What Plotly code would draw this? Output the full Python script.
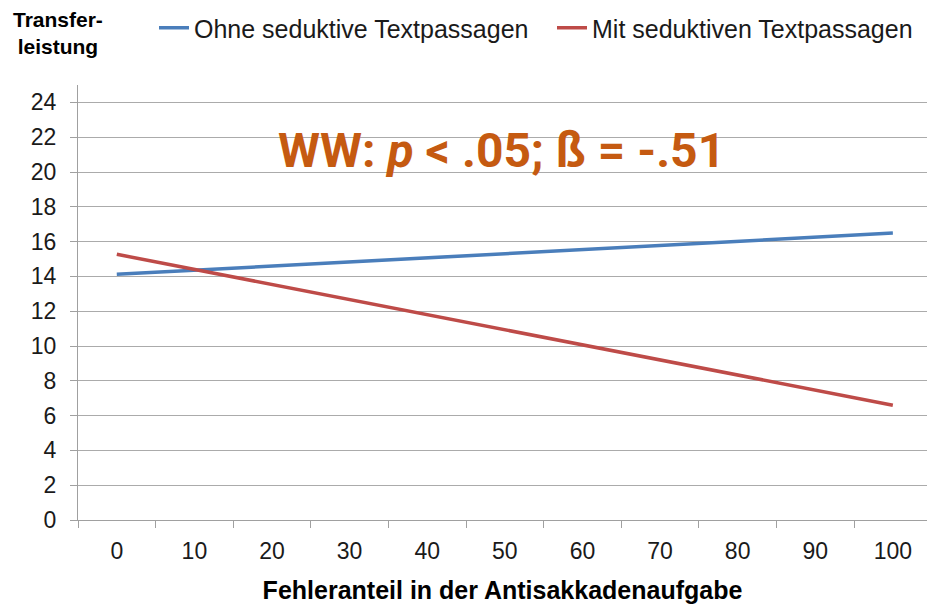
import plotly.graph_objects as go

# Data
x_vals = [0, 100]
ohne = [14.12, 16.49]
mit = [15.27, 6.60]
x_ticks = [0, 10, 20, 30, 40, 50, 60, 70, 80, 90, 100]
y_ticks = [0, 2, 4, 6, 8, 10, 12, 14, 16, 18, 20, 22, 24]

fig = go.Figure()
fig.add_trace(go.Scatter(x=x_vals, y=ohne, mode="lines", name="Ohne seduktive Textpassagen",
                         line=dict(color="#4A7EBB", width=3.5), legend="legend"))
fig.add_trace(go.Scatter(x=x_vals, y=mit, mode="lines", name="Mit seduktiven Textpassagen",
                         line=dict(color="#BE4B48", width=3.5), legend="legend2"))

FONT = "Liberation Sans, Arial, sans-serif"
tickfont = dict(family=FONT, size=23, color="#1a1a1a")
legfont = dict(family=FONT, size=25, color="#1a1a1a")

fig.update_layout(
    width=927, height=607,
    margin=dict(l=78, r=0, t=85, b=87, autoexpand=False),
    paper_bgcolor="white", plot_bgcolor="white",
    showlegend=True,
    legend=dict(orientation="h", xref="container", yref="container",
                x=154/927, xanchor="left", y=1 - 28/607, yanchor="middle",
                font=legfont, itemwidth=30, bgcolor="rgba(0,0,0,0)"),
    legend2=dict(orientation="h", xref="container", yref="container",
                 x=552/927, xanchor="left", y=1 - 28/607, yanchor="middle",
                 font=legfont, itemwidth=30, bgcolor="rgba(0,0,0,0)"),
    xaxis=dict(range=[-5, 104.4], tickvals=x_ticks, ticktext=[str(v) for v in x_ticks],
               ticks="", showgrid=False, zeroline=False, showline=True, linecolor="#A0A0A0",
               linewidth=1, tickfont=tickfont, ticklabelstandoff=10, automargin=False,
               minor=dict(tick0=-5, dtick=10, ticks="outside", ticklen=7, tickcolor="#A0A0A0",
                          tickwidth=1, showgrid=False),
               title=dict(text="<b>Fehleranteil in der Antisakkadenaufgabe</b>",
                          font=dict(family=FONT, size=25, color="#000"),
                          standoff=18)),
    yaxis=dict(range=[0, 25], tickvals=y_ticks, ticks="outside", ticklen=7, tickcolor="#A0A0A0",
               showgrid=True, gridcolor="#ABABAB", gridwidth=1, zeroline=False,
               showline=True, linecolor="#A0A0A0", linewidth=1, tickfont=tickfont,
               ticklabelstandoff=9, automargin=False),
    annotations=[
        dict(text="<b>Transfer-<br>leistung</b>", xref="paper", yref="paper",
             x=(58-78)/849, y=1 + (85-33)/435, xanchor="center", yanchor="middle",
             showarrow=False, align="center",
             font=dict(family=FONT, size=21, color="#000")),
        dict(text="<b>WW: <i>p</i> &lt; .05; ß = -.51</b>", xref="paper", yref="paper",
             x=(501-78)/849, y=(520-150)/435, xanchor="center", yanchor="middle",
             showarrow=False,
             font=dict(family="Roboto, sans-serif", size=48, color="#C55A11")),
    ],
)

fig.write_html("out.html", config={"displayModeBar": False, "responsive": False},
               post_script="document.body.style.margin='0';document.body.style.overflow='hidden';")
